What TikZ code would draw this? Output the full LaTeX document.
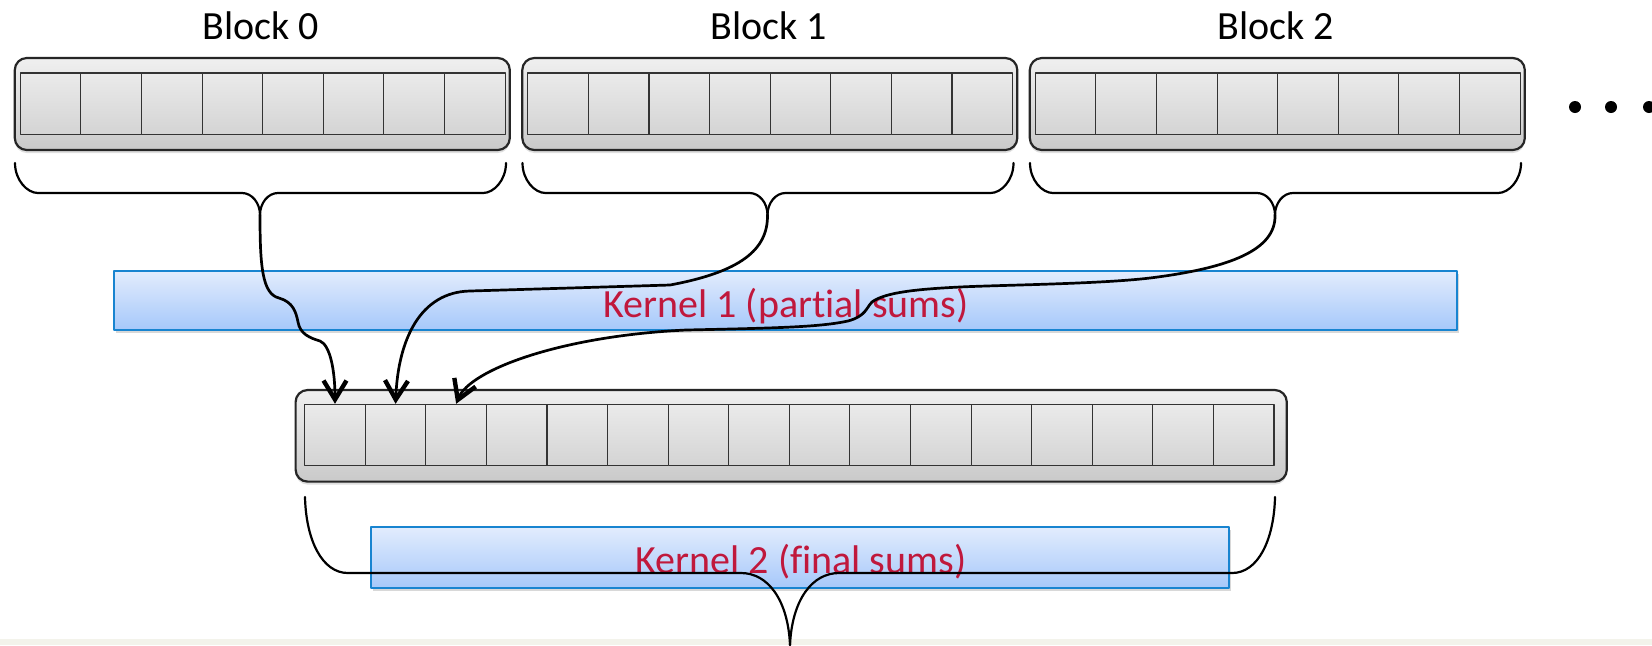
\documentclass[tikz,border=0pt]{standalone}
\usepackage{fontspec}
\setmainfont{Carlito}[Ligatures=NoCommon]
\usetikzlibrary{arrows.meta,shadows}
\definecolor{krnred}{RGB}{192,24,60}
\definecolor{krnedge}{RGB}{24,132,208}
\definecolor{krntop}{RGB}{226,236,253}
\definecolor{krnbot}{RGB}{166,200,250}
\definecolor{stripcol}{RGB}{243,243,235}
\begin{document}
\begin{tikzpicture}[x=0.5pt,y=-0.5pt,>={Straight Barb[length=9.5pt,width=11.5pt,line width=2.2pt]},line join=round,line cap=round,font=\fontsize{20}{24}\selectfont,
    outer/.style={draw=black!85,line width=1.1pt,rounded corners=6pt,top color=black!6,bottom color=black!21,drop shadow={opacity=0.25,shadow xshift=0pt,shadow yshift=-1.5pt},minimum height=46pt,inner sep=0pt},
    cell/.style={draw=black!80,line width=0.55pt,top color=black!8,bottom color=black!17,minimum width=30.3pt,minimum height=30.7pt,inner sep=0pt},
    kernel/.style={draw=krnedge,line width=0.8pt,top color=krntop,bottom color=krnbot,drop shadow={opacity=0.3,shadow xshift=1pt,shadow yshift=-1.5pt},inner sep=0pt},
    krntext/.style={anchor=base,text=krnred},
    curly/.style={line width=1.1pt},
    link/.style={->,line width=1.35pt}]
    \useasboundingbox (0,0) rectangle (1652,645);
    \fill[white] (0,0) rectangle (1652,645);
    \fill[stripcol] (0,639) rectangle (1652,645);
    \foreach \bi [evaluate=\bi as \ox using 507.5*\bi] in {0,1,2}{
        \node[outer,minimum width=247.5pt] (blk\bi) at ({262.3+\ox},104) {};
        \foreach \ci in {0,...,7}
            \node[cell] (b\bi-\ci) at ({50.6+60.6*\ci+\ox},103.7) {};
        \node[anchor=base] (lbl\bi) at ({261+\ox},39) {Block \bi};
    }
    \foreach \dx in {1575,1611,1649}
        \fill (\dx,107) circle (6);
    \node[kernel,minimum width=671.5pt,minimum height=29.5pt] (k1) at (785.5,300.5) {};
    \node[krntext] (k1txt) at (786,317) {Kernel 1 (partial sums)};
    \node[outer,minimum width=495.6pt,minimum height=45.8pt] (sums) at (791.2,435.8) {};
    \foreach \ci in {1,...,16}
        \node[cell] (s\ci) at ({335+60.58*(\ci-1)},435) {};
    \node[kernel,minimum width=429pt,minimum height=30.5pt] (k2) at (800,557.5) {};
    \node[krntext] (k2txt) at (801,573) {Kernel 2 (final sums)};
    \foreach \bi [evaluate=\bi as \ox using 507.5*\bi] in {0,1,2}{
        \coordinate (tip\bi) at ({260+\ox},215);
        \draw[curly] ({15+\ox},163) .. controls ({15+\ox},180) and ({27+\ox},193) .. ({38+\ox},193) -- ({242+\ox},193) .. controls ({252+\ox},193) and ({260+\ox},203) .. (tip\bi);
        \draw[curly] ({506+\ox},163) .. controls ({506+\ox},180) and ({494+\ox},193) .. ({483+\ox},193) -- ({278+\ox},193) .. controls ({268+\ox},193) and ({260+\ox},203) .. (tip\bi);
    }
    \coordinate (tip3) at (790,645);
    \draw[curly] (305,497) .. controls (306,540) and (322,573) .. (348,573) -- (741,573) .. controls (768,573) and (788,600) .. (tip3);
    \draw[curly] (1275,497) .. controls (1274,540) and (1258,573) .. (1232,573) -- (839,573) .. controls (812,573) and (792,600) .. (tip3);
    \draw[link] (tip0) .. controls (260,265) and (262,294) .. (279,298) .. controls (293,302) and (296,312) .. (298,322) .. controls (300,334) and (310,338) .. (320,341) .. controls (330,345) and (335,370) .. (s1.north);
    \draw[link] (tip1) .. controls (768,250) and (740,272) .. (670,285) -- (470,291) .. controls (420,292) and (398,340) .. (s2.north);
    \draw[link] (tip2) .. controls (1276,250) and (1230,268) .. (1150,278) .. controls (1100,284) and (1000,285) .. (960,287) .. controls (920,289) and (885,292) .. (872,302) .. controls (866,308) and (866,316) .. (848,321) .. controls (820,327) and (780,328) .. (686,330) .. controls (560,336) and (470,370) .. (s3.north);
\end{tikzpicture}
\end{document}
